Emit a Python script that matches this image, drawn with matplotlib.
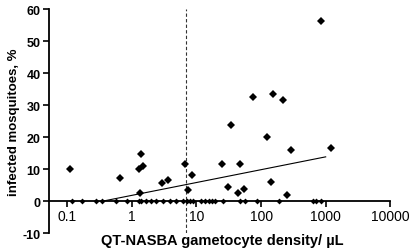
import matplotlib
matplotlib.use("Agg")
import matplotlib.pyplot as plt
import numpy as np

plt.rcParams["font.family"] = ["Liberation Sans", "DejaVu Sans"]

# infected mosquitoes (%) vs gametocyte density (/uL)
pos_density = [0.11, 0.65, 1.41, 1.31, 1.51, 1.36, 2.98, 3.69, 6.7, 8.5, 7.5,
               33.8, 24.5, 47, 30.4, 44, 53.7, 122, 288, 143, 253, 1217,
               840, 74, 151, 216]
pos_infected = [10, 7.3, 14.7, 9.9, 10.9, 2.6, 5.7, 6.5, 11.7, 8.1, 3.4,
                23.8, 11.6, 11.5, 4.5, 2.5, 3.75, 19.9, 15.8, 6.0, 1.8, 16.6,
                56.2, 32.5, 33.4, 31.5]
zero_density = [0.12, 0.17, 0.277, 0.35, 0.577, 0.836, 1.27, 1.38, 1.68, 1.97,
                2.38, 3.03, 3.83, 4.86, 6.24, 7.12, 7.81, 8.83, 11.9, 13.7,
                15.4, 17.4, 19.1, 26.0, 47.8, 55.7, 86.7, 187, 640, 713, 861]
zero_infected = [0] * len(zero_density)

# regression line endpoints (log-linear fit)
fit_x = [0.363, 1000]
fit_y = [0.0, 13.8]
threshold = 7.0

xticks = [0.1, 1, 10, 100, 1000, 10000]
xticklabels = ["0.1", "1", "10", "100", "1000", "10000"]
yticks = [-10, 0, 10, 20, 30, 40, 50, 60]

fig = plt.figure(figsize=(4.11, 2.51), dpi=100)
ax = fig.add_axes([0.1192, 0.0677, 0.8304, 0.8924])

ax.plot(fit_x, fit_y, color="black", lw=0.8)
ax.axvline(threshold, color="#333333", lw=0.8, ls=(0, (3, 2)))
ax.plot(zero_density, zero_infected, "D", color="black", ms=3.0, mew=0, clip_on=False)
ax.plot(pos_density, pos_infected, "D", color="black", ms=3.6, mew=0, clip_on=False)

ax.set_xscale("log")
ax.set_xlim(0.0522, 10000)
ax.set_ylim(-10, 60)
ax.set_xticks(xticks)
ax.set_xticklabels(xticklabels, fontsize=9, fontweight="bold")
ax.xaxis.set_minor_locator(matplotlib.ticker.NullLocator())
ax.set_yticks(yticks)
ax.set_yticklabels([str(v) for v in yticks], fontsize=9, fontweight="bold")

ax.spines["top"].set_visible(False)
ax.spines["right"].set_visible(False)
ax.spines["bottom"].set_position(("data", 0))
for s in ("left", "bottom"):
    ax.spines[s].set_linewidth(1.3)
ax.tick_params(axis="both", direction="out", length=4, width=1.2, pad=2)

ax.set_ylabel("infected mosquitoes, %", fontsize=9.5, fontweight="bold", labelpad=2)
fig.text(0.54, 0.04, "QT-NASBA gametocyte density/ \u00b5L",
         ha="center", va="center", fontsize=10.5, fontweight="bold")

fig.savefig("out.png", dpi=100)
